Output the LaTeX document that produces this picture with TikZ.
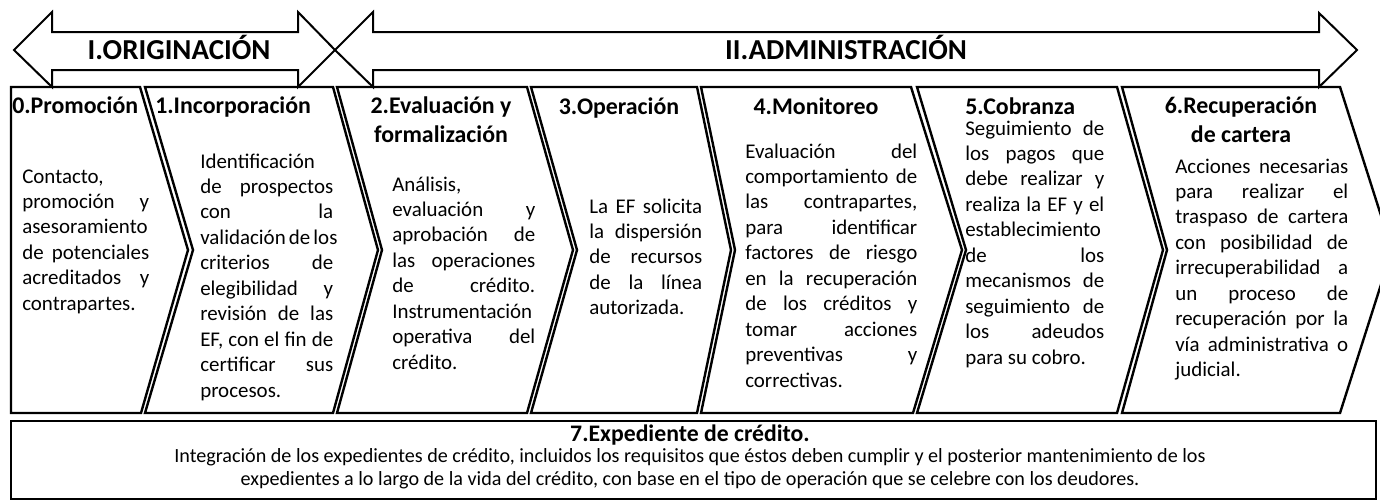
\documentclass[tikz,border=0pt]{standalone}
\usepackage{fontspec}
\setmainfont{Carlito}
\newcommand{\jl}[1]{\makebox[\linewidth][s]{#1}}
\begin{document}
\begin{tikzpicture}[x=0.75pt,y=-0.75pt,
  shp/.style={draw=black, line width=1.8pt, line join=miter},
  arr/.style={draw=black, line width=1.5pt, line join=miter},
  band/.style={font=\fontsize{21.7}{26}\selectfont\bfseries, inner sep=0pt, anchor=base},
  hd/.style={font=\fontsize{17.9}{21.7}\selectfont\bfseries, inner sep=0pt, anchor=base west},
  hdc/.style={font=\fontsize{17.9}{21.7}\selectfont\bfseries, inner sep=0pt, anchor=base},
  bd/.style={font=\fontsize{15.7}{19.1}\selectfont, inner sep=0pt, anchor=base west},
  bt/.style={font=\fontsize{17.8}{21.7}\selectfont\bfseries, inner sep=0pt, anchor=base},
  bb/.style={font=\fontsize{15.1}{18}\selectfont, inner sep=0pt, anchor=base}]
\useasboundingbox (0,0) rectangle (1380,501);
% top banner arrows
\draw[arr] (14,50) -- (52,12) -- (52,32) -- (298,32) -- (298,12) -- (335,50)
  -- (298,87) -- (298,70) -- (52,70) -- (52,87) -- cycle;
\draw[arr] (335,50) -- (373,12) -- (373,32) -- (1319,32) -- (1319,13) -- (1357,50)
  -- (1319,87) -- (1319,70) -- (373,70) -- (373,87) -- cycle;
\node[band] (orig) at (179,59) {I.ORIGINACIÓN};
\node[band] (admin) at (846,59) {II.ADMINISTRACIÓN};
% chevrons
\draw[shp] (11,87) -- (140,87) -- (188,250) -- (141,413) -- (11,413) -- cycle;
\draw[shp] (145,87) -- (333,87) -- (378,250) -- (333,413) -- (145,413) -- (193,250) -- cycle;
\draw[shp] (337,87) -- (527,87) -- (573,250) -- (527,413) -- (337,413) -- (382,250) -- cycle;
\draw[shp] (531,87) -- (697,87) -- (731,250) -- (697,413) -- (531,413) -- (577,250) -- cycle;
\draw[shp] (701,87) -- (911,87) -- (962,250) -- (913,413) -- (701,413) -- (735,250) -- cycle;
\draw[shp] (917,87) -- (1117,87) -- (1163,250) -- (1117,413) -- (917,413) -- (966,250) -- cycle;
\draw[shp] (1122,87) -- (1340,87) -- (1392,250) -- (1340,413) -- (1122,413) -- (1167,250) -- cycle;
% bottom box
\draw[line width=2.1pt] (11,421) rectangle (1376,499);
% headings
\node[hd] (h0) at (12,113) {0.Promoción};
\node[hd] (h1) at (155,113) {1.Incorporación};
\node[hdc] (h2a) at (441,113) {2.Evaluación y};
\node[hdc] (h2b) at (441,142) {formalización};
\node[hdc] (h3) at (619,114) {3.Operación};
\node[hdc] (h4) at (816,114) {4.Monitoreo};
\node[hd] (h5) at (965,114) {5.Cobranza};
\node[hdc] (h6a) at (1241,113) {6.Recuperación};
\node[hdc] (h6b) at (1241,142) {de cartera};
% bodies
\node[bd] (b0) at (22,183) {\parbox[t]{95.25pt}{Contacto,\\
\jl{promoción y}\\
asesoramiento\\
\jl{de potenciales}\\
\jl{acreditados y}\\
contrapartes.}};
\node[bd] (b1) at (200,168) {\parbox[t]{99.75pt}{Identificación\\
\jl{de prospectos}\\
\jl{con la}\\
\jl{validación de los}\\
\jl{criterios de}\\
\jl{elegibilidad y}\\
\jl{revisión de las}\\
\jl{EF, con el fin de}\\
\jl{certificar sus}\\
procesos.}};
\node[bd] (b2) at (392,191) {\parbox[t]{107.25pt}{Análisis,\\
\jl{evaluación y}\\
\jl{aprobación de}\\
\jl{las operaciones}\\
\jl{de crédito.}\\
Instrumentación\\
\jl{operativa del}\\
crédito.}};
\node[bd] (b3) at (589,213) {\parbox[t]{84.75pt}{\jl{La EF solicita}\\
\jl{la dispersión}\\
\jl{de recursos}\\
\jl{de la línea}\\
autorizada.}};
\node[bd] (b4) at (745,158) {\parbox[t]{129pt}{\jl{Evaluación del}\\
\jl{comportamiento de}\\
\jl{las contrapartes,}\\
\jl{para identificar}\\
\jl{factores de riesgo}\\
\jl{en la recuperación}\\
\jl{de los créditos y}\\
\jl{tomar acciones}\\
\jl{preventivas y}\\
correctivas.}};
\node[bd] (b5) at (965,135) {\parbox[t]{104.25pt}{\jl{Seguimiento de}\\
\jl{los pagos que}\\
\jl{debe realizar y}\\
\jl{realiza la EF y el}\\
establecimiento\\
\jl{de los}\\
\jl{mecanismos de}\\
\jl{seguimiento de}\\
\jl{los adeudos}\\
para su cobro.}};
\node[bd] (b6) at (1175,173) {\parbox[t]{129.75pt}{\jl{Acciones necesarias}\\
\jl{para realizar el}\\
\jl{traspaso de cartera}\\
\jl{con posibilidad de}\\
\jl{irrecuperabilidad a}\\
\jl{un proceso de}\\
\jl{recuperación por la}\\
\jl{vía administrativa o}\\
judicial.}};
% bottom texts
\node[bt] (t7) at (690,441) {7.Expediente de crédito.};
\node[bb] (t7a) at (690,462) {Integración de los expedientes de crédito, incluidos los requisitos que éstos deben cumplir y el posterior mantenimiento de los};
\node[bb] (t7b) at (690,485) {expedientes a lo largo de la vida del crédito, con base en el tipo de operación que se celebre con los deudores.};
\end{tikzpicture}
\end{document}
